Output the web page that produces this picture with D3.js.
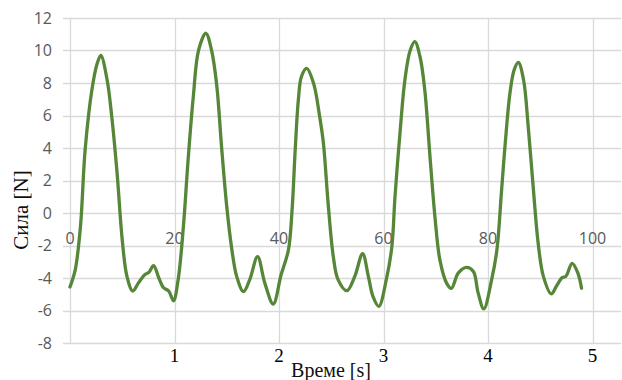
<!DOCTYPE html>
<html><head><meta charset="utf-8">
<script src="https://cdn.jsdelivr.net/npm/d3@7"></script>
<style>body{margin:0;background:#fff}svg{display:block}</style>
</head><body>
<script>
const timeX = [0,1.0,2.0,2.9,4.2,5.2,5.9,7.1,8.0,9.0,10.0,10.9,12.0,13.1,14.3,15.1,16.0,17.0,17.9,18.9,19.8,20.7,21.7,22.6,23.6,24.6,26.0,27.1,28.1,29.0,30.0,30.9,31.9,33.2,34.4,35.9,37.3,38.9,40.4,41.8,42.5,43.1,43.7,44.3,45.3,46.6,47.8,48.5,49.4,50.4,51.3,53.0,54.5,56.0,57.1,58.0,59.1,60.6,61.6,62.2,63.2,64.1,65.1,66.0,67.0,67.9,68.9,69.9,70.8,72.1,73.0,74.3,75.9,77.2,78.1,79.2,80.7,81.7,82.6,83.3,84.2,85.0,85.8,86.8,87.7,88.7,89.6,90.6,92.1,93.1,94.2,94.9,96.1,97.2,97.9];
const force = [-4.55,-3.5,-0.84,3.9,7.6,9.2,9.7,8.2,5.9,2.5,-1.66,-3.9,-4.8,-4.3,-3.8,-3.65,-3.24,-4.0,-4.6,-4.8,-5.4,-4.1,-0.84,3.26,7.16,10.0,11.06,10.0,7.8,4.1,0.4,-2.07,-3.9,-4.84,-4.1,-2.69,-4.33,-5.6,-3.8,-2.28,0.18,3.88,6.95,8.4,8.9,8.0,5.9,4.3,0.6,-2.7,-4.1,-4.78,-3.9,-2.5,-3.9,-5.15,-5.75,-4.0,-2.07,1.0,5.1,8.2,10.0,10.54,9.6,7.57,3.46,-0.43,-2.9,-4.33,-4.64,-3.7,-3.35,-3.6,-4.9,-5.9,-4.1,-2.28,1.4,4.3,7.37,8.8,9.27,8.2,5.3,1.4,-1.86,-3.9,-4.98,-4.5,-3.98,-3.9,-3.1,-3.7,-4.63];
const xTicks = [0,20,40,60,80,100];
const yTicks = [-8,-6,-4,-2,0,2,4,6,8,10,12];
const secLabels = ["1","2","3","4","5"];
const secPositions = [20,40,60,80,100];
const yTitle = "Сила [N]";
const xTitle = "Време [s]";

const W = 622, H = 380;
const svg = d3.select("body").append("svg").attr("width", W).attr("height", H);
const x = d3.scaleLinear().domain([0,100]).range([70,592.5]);
const y = d3.scaleLinear().domain([-8,12]).range([343,18]);
const rightEdge = 621;

// horizontal gridlines
svg.append("g").selectAll("line").data(yTicks).join("line")
  .attr("x1", 63).attr("x2", rightEdge)
  .attr("y1", d => Math.round(y(d))+0.5).attr("y2", d => Math.round(y(d))+0.5)
  .attr("stroke", "#d9d9d9").attr("stroke-width", 1.3);
// vertical gridlines
svg.append("g").selectAll("line").data(xTicks).join("line")
  .attr("x1", d => Math.round(x(d))+0.5).attr("x2", d => Math.round(x(d))+0.5)
  .attr("y1", y(12)).attr("y2", y(-8))
  .attr("stroke", "#d9d9d9").attr("stroke-width", 1.3);

// y tick labels
svg.append("g").selectAll("text").data(yTicks).join("text")
  .attr("x", 52).attr("y", d => y(d)).attr("dy", "0.36em")
  .attr("text-anchor", "end")
  .attr("font-family", "'Open Sans', sans-serif").attr("font-size", 16)
  .attr("fill", "#595959").text(d => d);

// x tick labels (at y=0 axis)
svg.append("g").selectAll("text").data(xTicks).join("text")
  .attr("x", d => x(d)).attr("y", y(0)+31)
  .attr("text-anchor", "middle")
  .attr("font-family", "'Open Sans', sans-serif").attr("font-size", 16)
  .attr("fill", "#595959").text(d => d);

// line
const line = d3.line().x((d,i) => x(timeX[i])).y(d => y(d)).curve(d3.curveCatmullRom.alpha(0.5));
svg.append("path").datum(force).attr("d", line)
  .attr("fill", "none").attr("stroke", "#568637").attr("stroke-width", 3.3)
  .attr("stroke-linejoin", "round").attr("stroke-linecap", "round");

// seconds labels
svg.append("g").selectAll("text").data(secLabels).join("text")
  .attr("x", (d,i) => x(secPositions[i])).attr("y", 362)
  .attr("text-anchor", "middle")
  .attr("font-family", "'Liberation Serif', serif").attr("font-size", 19)
  .attr("fill", "#000").text(d => d);

// titles
svg.append("text").attr("x", 331).attr("y", 377).attr("text-anchor", "middle")
  .attr("font-family", "'Liberation Serif', serif").attr("font-size", 20)
  .attr("fill", "#111").text(xTitle);
svg.append("text").attr("transform", "translate(28,210) rotate(-90)").attr("text-anchor", "middle")
  .attr("font-family", "'Liberation Serif', serif").attr("font-size", 21)
  .attr("fill", "#111").text(yTitle);
</script>
</body></html>
